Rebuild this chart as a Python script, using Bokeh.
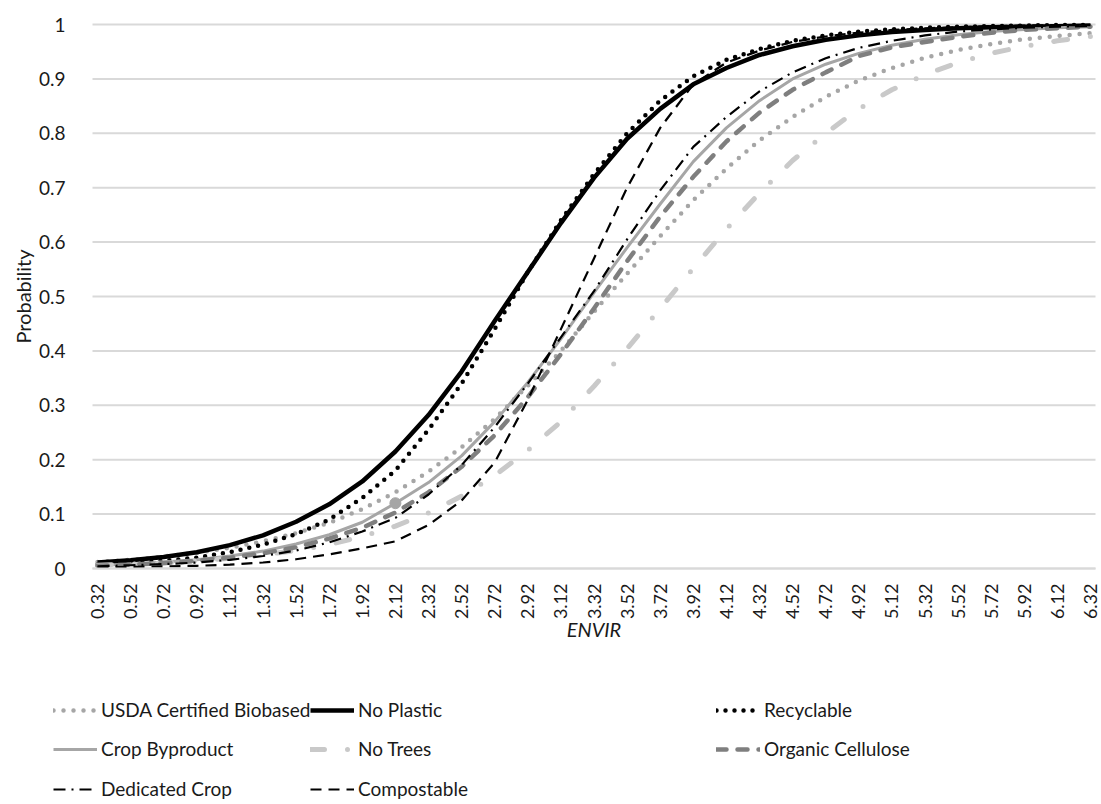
import math
from bokeh.plotting import figure
from bokeh.models import Range1d, FixedTicker, CustomJSTickFormatter, Legend, LegendItem
from bokeh.embed import file_html
from bokeh.resources import INLINE

# ---------------- data ----------------
ENVIR = [0.32, 0.52, 0.72, 0.92, 1.12, 1.32, 1.52, 1.72, 1.92, 2.12, 2.32,
         2.52, 2.72, 2.92, 3.12, 3.32, 3.52, 3.72, 3.92, 4.12, 4.32, 4.52,
         4.72, 4.92, 5.12, 5.32, 5.52, 5.72, 5.92, 6.12, 6.32]

usda_certified_biobased = [0.012, 0.016, 0.022, 0.029, 0.038, 0.050, 0.065, 0.084, 0.109, 0.140, 0.178,
                           0.223, 0.275, 0.336, 0.400, 0.472, 0.542, 0.611, 0.677, 0.735, 0.787, 0.830,
                           0.867, 0.897, 0.920, 0.939, 0.953, 0.964, 0.973, 0.979, 0.984]
no_plastic = [0.011, 0.015, 0.021, 0.030, 0.043, 0.061, 0.086, 0.118, 0.160, 0.215, 0.282,
              0.362, 0.455, 0.545, 0.635, 0.718, 0.790, 0.845, 0.890, 0.920, 0.944, 0.960,
              0.972, 0.980, 0.986, 0.990, 0.993, 0.995, 0.996, 0.997, 0.998]
recyclable = [0.007, 0.010, 0.014, 0.020, 0.030, 0.044, 0.063, 0.090, 0.130, 0.180, 0.255,
              0.340, 0.440, 0.545, 0.640, 0.725, 0.800, 0.860, 0.905, 0.935, 0.955, 0.970,
              0.980, 0.987, 0.991, 0.994, 0.996, 0.997, 0.998, 0.999, 0.999]
crop_byproduct = [0.006, 0.008, 0.012, 0.016, 0.023, 0.032, 0.045, 0.062, 0.085, 0.120, 0.158,
                  0.207, 0.270, 0.342, 0.422, 0.507, 0.590, 0.670, 0.748, 0.810, 0.860, 0.900,
                  0.927, 0.947, 0.962, 0.973, 0.981, 0.987, 0.991, 0.994, 0.996]
no_trees = [0.006, 0.008, 0.010, 0.014, 0.019, 0.025, 0.033, 0.044, 0.059, 0.078, 0.102,
            0.133, 0.171, 0.217, 0.270, 0.335, 0.404, 0.478, 0.552, 0.624, 0.690, 0.750,
            0.800, 0.845, 0.880, 0.908, 0.930, 0.947, 0.960, 0.970, 0.978]
organic_cellulose = [0.005, 0.007, 0.010, 0.014, 0.020, 0.028, 0.039, 0.055, 0.075, 0.103, 0.140,
                     0.187, 0.245, 0.315, 0.394, 0.478, 0.565, 0.647, 0.720, 0.785, 0.838, 0.880,
                     0.912, 0.942, 0.958, 0.968, 0.977, 0.985, 0.990, 0.993, 0.996]
dedicated_crop = [0.004, 0.006, 0.008, 0.011, 0.016, 0.023, 0.033, 0.048, 0.068, 0.093, 0.136,
                  0.190, 0.260, 0.340, 0.425, 0.510, 0.605, 0.695, 0.775, 0.830, 0.877, 0.912,
                  0.938, 0.957, 0.970, 0.980, 0.987, 0.991, 0.994, 0.996, 0.997]
compostable = [0.002, 0.003, 0.004, 0.005, 0.007, 0.011, 0.017, 0.026, 0.037, 0.050, 0.080,
               0.125, 0.195, 0.310, 0.440, 0.570, 0.700, 0.810, 0.890, 0.930, 0.952, 0.968,
               0.978, 0.985, 0.990, 0.993, 0.995, 0.997, 0.998, 0.999, 0.999]

series_names = ["USDA Certified Biobased", "No Plastic", "Recyclable",
                "Crop Byproduct", "No Trees", "Organic Cellulose",
                "Dedicated Crop", "Compostable"]
series_values = [usda_certified_biobased, no_plastic, recyclable,
                 crop_byproduct, no_trees, organic_cellulose,
                 dedicated_crop, compostable]
y_ticks = [0, 0.1, 0.2, 0.3, 0.4, 0.5, 0.6, 0.7, 0.8, 0.9, 1]
marker_index = 9  # highlighted point on Crop Byproduct

# ---------------- styles ----------------
STY = {
    "USDA Certified Biobased": dict(line_color="#a6a6a6", line_width=4.5, line_dash="0 10", line_cap="round"),
    "No Plastic": dict(line_color="#000000", line_width=4.5, line_dash="solid", line_cap="butt"),
    "Recyclable": dict(line_color="#000000", line_width=4.5, line_dash="0 9", line_cap="round"),
    "Crop Byproduct": dict(line_color="#a6a6a6", line_width=3, line_dash="solid", line_cap="butt"),
    "No Trees": dict(line_color="#c9c9c9", line_width=5, line_dash="14 23 0 23", line_cap="round"),
    "Organic Cellulose": dict(line_color="#7f7f7f", line_width=4.5, line_dash="10 11", line_cap="round"),
    "Dedicated Crop": dict(line_color="#000000", line_width=2.2, line_dash="12 6 2 6", line_cap="butt"),
    "Compostable": dict(line_color="#000000", line_width=2.2, line_dash="11 7", line_cap="butt"),
}
FONT = "Lato"
TXT = "#1a1a1a"
GRID = "#d9d9d9"

# page geometry (the frame covers the whole canvas; the axes sit at fixed locations)
W, H = 1101, 804
PLOT_L, PLOT_R, PLOT_T, PLOT_B = 92, 1095, 24, 568
X_FIRST_PX, X_STEP_PX = 97, 33.1          # pixel of first category, pixels per 0.2
KX = X_STEP_PX / 0.2
KY = (PLOT_B - PLOT_T) / 1.0
x0 = ENVIR[0] - X_FIRST_PX / KX
x1 = x0 + W / KX
y1 = 1 + PLOT_T / KY
y0 = -(H - PLOT_B) / KY
xl = x0 + PLOT_L / KX                        # data x of plot-area left edge
xr = x0 + PLOT_R / KX                        # data x of plot-area right edge

p = figure(width=W, height=H, output_backend="svg", toolbar_location=None,
           x_range=Range1d(x0, x1), y_range=Range1d(y0, y1),
           min_border_left=0, min_border_right=0, min_border_top=0, min_border_bottom=0)
p.outline_line_color = None
p.background_fill_color = "white"
p.border_fill_color = "white"
p.xgrid.visible = False
p.ygrid.visible = False

# horizontal gridlines across the plot area only
p.segment(x0=[xl] * len(y_ticks), x1=[xr] * len(y_ticks), y0=y_ticks, y1=y_ticks,
          line_color=GRID, line_width=2)

renderers = {}
for name, vals in zip(series_names, series_values):
    renderers[name] = p.line(ENVIR, vals, line_join="round", **STY[name])

p.scatter([ENVIR[marker_index]], [crop_byproduct[marker_index]], size=11,
          marker="circle", fill_color="#a6a6a6", line_color="#a6a6a6")

xa = p.xaxis[0]
xa.fixed_location = 0
xa.bounds = (xl, xr)
xa.ticker = FixedTicker(ticks=ENVIR)
xa.formatter = CustomJSTickFormatter(code="return tick.toFixed(2);")
xa.major_label_orientation = math.pi / 2
xa.axis_line_color = GRID
xa.axis_line_width = 2
xa.major_tick_line_color = None
xa.minor_tick_line_color = None
xa.major_label_standoff = 9
xa.major_label_text_font = FONT
xa.major_label_text_font_size = "18px"
xa.major_label_text_color = TXT
xa.axis_label = "ENVIR"
xa.axis_label_text_font = FONT
xa.axis_label_text_font_size = "20px"
xa.axis_label_text_font_style = "italic"
xa.axis_label_text_color = TXT
xa.axis_label_standoff = -5

ya = p.yaxis[0]
ya.fixed_location = xl
ya.bounds = (0, 1)
ya.ticker = FixedTicker(ticks=y_ticks)
ya.formatter = CustomJSTickFormatter(code="var s = tick.toFixed(1); return s.replace(/\\.0$/, '');")
ya.axis_line_color = None
ya.major_tick_line_color = None
ya.minor_tick_line_color = None
ya.major_label_standoff = 21
ya.major_label_text_font = FONT
ya.major_label_text_font_size = "19px"
ya.major_label_text_color = TXT
ya.axis_label = "Probability"
ya.axis_label_text_font = FONT
ya.axis_label_text_font_size = "20px"
ya.axis_label_text_font_style = "normal"
ya.axis_label_text_color = TXT
ya.axis_label_standoff = 1

# ---------------- legend: one small legend per entry, placed in page pixels ----------------
GLYPH_W = 44
BOX_H = 20
col_x = [53, 310, 716]      # page x of each legend column's glyph start
row_y = [711, 750, 790]     # page y of each legend row's centre

for i, name in enumerate(series_names):
    r, c = divmod(i, 3)
    lg = Legend(items=[LegendItem(label=name, renderers=[renderers[name]])],
                location=(col_x[c], H - (row_y[r] + BOX_H / 2)),
                orientation="horizontal",
                border_line_color=None, background_fill_alpha=0,
                padding=0, margin=0, spacing=0,
                glyph_width=GLYPH_W, glyph_height=BOX_H, label_height=BOX_H,
                label_standoff=4,
                label_text_font=FONT, label_text_font_size="19px",
                label_text_color=TXT)
    p.add_layout(lg, "center")

open("out.html", "w").write(file_html(p, INLINE))
